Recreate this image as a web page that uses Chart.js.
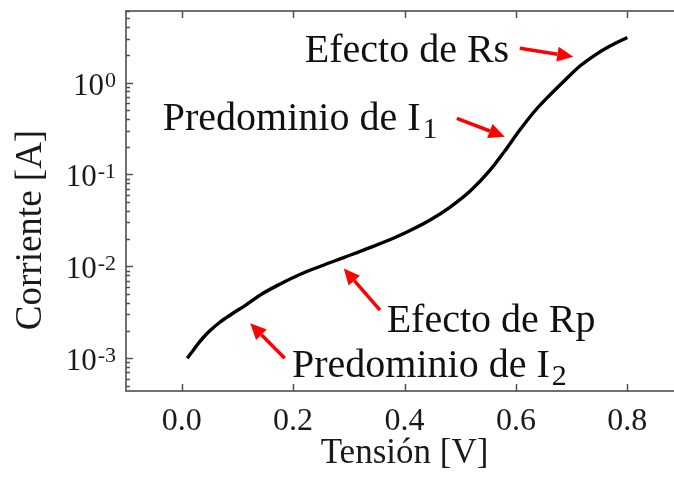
<!DOCTYPE html>
<html>
<head>
<meta charset="utf-8">
<script src="https://cdn.jsdelivr.net/npm/chart.js@4.4.1/dist/chart.umd.min.js"></script>
<style>
    html, body { margin: 0; padding: 0; background: #fff; overflow: hidden; }
    #chartBox { width: 700px; height: 477px; }
</style>
</head>
<body>
<div id="chartBox"><canvas id="ivChart" width="700" height="477"></canvas></div>
<script>
// Curva I-V del diodo (tensión en V, corriente en A)
const tension = [0.010, 0.018, 0.028, 0.038, 0.051, 0.069, 0.090, 0.115, 0.144, 0.177,
                 0.212, 0.248, 0.293, 0.338, 0.383, 0.410, 0.446, 0.482, 0.518, 0.554,
                 0.580, 0.607, 0.634, 0.661, 0.688, 0.715, 0.742, 0.769, 0.800];
const corriente = [0.00100, 0.00116, 0.00140, 0.00166, 0.00200, 0.00248, 0.00303, 0.00379, 0.00500, 0.00643,
                   0.00815, 0.00995, 0.0126, 0.0160, 0.0206, 0.0245, 0.0319, 0.0442, 0.0659, 0.112,
                   0.180, 0.304, 0.490, 0.731, 1.06, 1.51, 1.99, 2.49, 3.09];

const xTicks = [0, 0.2, 0.4, 0.6, 0.8];
const xTickLabels = ['0.0', '0.2', '0.4', '0.6', '0.8'];
const yDecadas = [1e-3, 1e-2, 1e-1, 1];
const yExponentes = ['-3', '-2', '-1', '0'];

// Anotaciones: texto, subíndice y puntos en unidades de datos [V, A]
const notas = [
    { texto: 'Efecto de Rs', sub: '', en: [0.221, 1.67], desde: [0.607, 2.36], hasta: [0.703, 1.91] },
    { texto: 'Predominio de I', sub: '1', en: [-0.034, 0.304], desde: [0.494, 0.408], hasta: [0.580, 0.257] },
    { texto: 'Efecto de Rp', sub: '', en: [0.368, 0.00194], desde: [0.356, 0.00334], hasta: [0.291, 0.00946] },
    { texto: 'Predominio de I', sub: '2', en: [0.198, 0.000629], desde: [0.185, 0.000998], hasta: [0.123, 0.00240] }
];

const FUENTE = '"Liberation Serif", "Times New Roman", serif';
const COLOR_MARCO = '#707070';
const COLOR_TEXTO = '#1a1a1a';

function flecha(ctx, x0, y0, x1, y1) {
    const ang = Math.atan2(y1 - y0, x1 - x0);
    const largo = 16, medio = 7.5;
    const bx = x1 - largo * Math.cos(ang);
    const by = y1 - largo * Math.sin(ang);
    ctx.strokeStyle = '#ff0000';
    ctx.fillStyle = '#ff0000';
    ctx.lineWidth = 3.5;
    ctx.beginPath();
    ctx.moveTo(x0, y0);
    ctx.lineTo(bx, by);
    ctx.stroke();
    ctx.beginPath();
    ctx.moveTo(x1, y1);
    ctx.lineTo(bx + medio * Math.sin(ang), by - medio * Math.cos(ang));
    ctx.lineTo(bx - medio * Math.sin(ang), by + medio * Math.cos(ang));
    ctx.closePath();
    ctx.fill();
}

// Marco, ticks hacia adentro, etiquetas 10^n, título vertical y anotaciones
const extrasPlugin = {
    id: 'extras',
    afterDraw(chart) {
        const ctx = chart.ctx;
        const { left, right, top, bottom } = chart.chartArea;
        const xs = chart.scales.x, ys = chart.scales.y;
        ctx.save();

        ctx.strokeStyle = COLOR_MARCO;
        ctx.lineWidth = 2;
        ctx.beginPath();
        ctx.moveTo(left, top);
        ctx.lineTo(right, top);
        ctx.lineTo(right, bottom);
        ctx.stroke();

        ctx.strokeStyle = '#505050';
        ctx.lineWidth = 1.5;
        ctx.beginPath();
        xTicks.forEach(v => {
            const px = Math.round(xs.getPixelForValue(v)) + 0.5;
            ctx.moveTo(px, bottom); ctx.lineTo(px, bottom - 7);
            ctx.moveTo(px, top); ctx.lineTo(px, top + 7);
        });
        for (let d = -4; d <= 0; d++) {
            for (let m = 1; m <= 9; m++) {
                const v = m * Math.pow(10, d);
                if (v < ys.min || v > ys.max) continue;
                const py = Math.round(ys.getPixelForValue(v)) + 0.5;
                ctx.moveTo(left, py);
                ctx.lineTo(left + (m === 1 ? 7 : 4), py);
            }
        }
        ctx.stroke();

        // etiquetas del eje logarítmico
        ctx.fillStyle = COLOR_TEXTO;
        ctx.textBaseline = 'alphabetic';
        ctx.textAlign = 'left';
        yDecadas.forEach((v, i) => {
            const py = ys.getPixelForValue(v);
            ctx.font = '22px ' + FUENTE;
            const wExp = ctx.measureText(yExponentes[i]).width;
            ctx.font = '31px ' + FUENTE;
            const wBase = ctx.measureText('10').width;
            const x0 = left - 10 - wExp - wBase - 1;
            ctx.fillText('10', x0, py + 12);
            ctx.font = '22px ' + FUENTE;
            ctx.fillText(yExponentes[i], x0 + wBase + 1, py + 4);
        });

        ctx.save();
        ctx.translate(31, 230);
        ctx.rotate(-Math.PI / 2);
        ctx.font = '37px ' + FUENTE;
        ctx.textAlign = 'center';
        ctx.textBaseline = 'middle';
        ctx.fillText('Corriente [A]', 0, 0);
        ctx.restore();

        notas.forEach(n => {
            const tx = xs.getPixelForValue(n.en[0]);
            const ty = ys.getPixelForValue(n.en[1]);
            ctx.fillStyle = '#111';
            ctx.textAlign = 'left';
            ctx.textBaseline = 'alphabetic';
            ctx.font = '40px ' + FUENTE;
            ctx.fillText(n.texto, tx, ty);
            if (n.sub) {
                const w = ctx.measureText(n.texto).width;
                ctx.font = '30px ' + FUENTE;
                ctx.fillText(n.sub, tx + w + 2, ty + 8);
            }
            flecha(ctx,
                xs.getPixelForValue(n.desde[0]), ys.getPixelForValue(n.desde[1]),
                xs.getPixelForValue(n.hasta[0]), ys.getPixelForValue(n.hasta[1]));
        });

        ctx.restore();
    }
};

const ctx = document.getElementById('ivChart').getContext('2d');
new Chart(ctx, {
    type: 'line',
    data: {
        datasets: [{
            data: tension.map((v, i) => ({ x: v, y: corriente[i] })),
            borderColor: '#000',
            borderWidth: 3.4,
            pointRadius: 0,
            fill: false,
            cubicInterpolationMode: 'monotone'
        }]
    },
    options: {
        responsive: false,
        animation: false,
        layout: { padding: { top: 11, right: 17, bottom: 0, left: 0 } },
        plugins: { legend: { display: false }, tooltip: { enabled: false } },
        scales: {
            x: {
                type: 'linear',
                min: -0.1,
                max: 0.9,
                afterFit: s => { s.height = 86; },
                afterBuildTicks: s => { s.ticks = xTicks.map(v => ({ value: v })); },
                grid: { display: false, drawTicks: false },
                border: { display: true, color: COLOR_MARCO, width: 2 },
                ticks: {
                    autoSkip: false,
                    maxRotation: 0,
                    padding: 11,
                    color: COLOR_TEXTO,
                    font: { family: FUENTE, size: 32 },
                    callback: v => xTickLabels[xTicks.indexOf(v)]
                },
                title: {
                    display: true,
                    text: 'Tensión [V]',
                    color: COLOR_TEXTO,
                    font: { family: FUENTE, size: 35 },
                    padding: { top: 0, bottom: 2 }
                }
            },
            y: {
                type: 'logarithmic',
                min: 4.4e-4,
                max: 6,
                afterFit: s => { s.width = 126; },
                grid: { display: false, drawTicks: false },
                border: { display: true, color: COLOR_MARCO, width: 2 },
                ticks: { display: false }
            }
        }
    },
    plugins: [extrasPlugin]
});
</script>
</body>
</html>
